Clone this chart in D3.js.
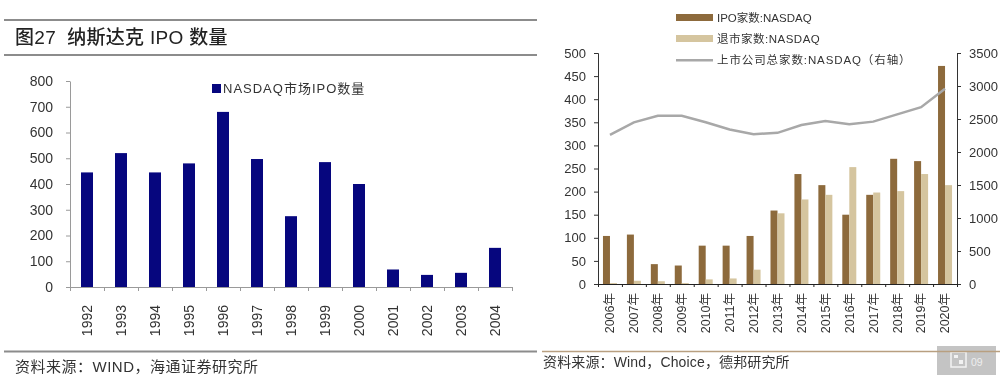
<!DOCTYPE html>
<html>
<head>
<meta charset="utf-8">
<script src="https://cdn.jsdelivr.net/npm/d3@7"></script>
<style>
  html, body { margin: 0; padding: 0; background: #fff; overflow: hidden; }
  svg { display: block; filter: blur(0.5px); }
  text { font-family: "Liberation Sans", "Noto Sans CJK SC", sans-serif; }
</style>
</head>
<body>
<div id="container"></div>
<script>
const years1 = ["1992","1993","1994","1995","1996","1997","1998","1999","2000","2001","2002","2003","2004"];
const ipoCount = [445,520,445,480,680,497,275,485,400,68,47,55,152];
const leftTicks = [0,100,200,300,400,500,600,700,800];

const years2 = ["2006年","2007年","2008年","2009年","2010年","2011年","2012年","2013年","2014年","2015年","2016年","2017年","2018年","2019年","2020年"];
const ipoHomes = [104,107,43,40,83,83,104,159,238,214,150,193,271,266,472];
const delisted = [2,7,6,2,10,12,31,153,183,193,253,198,201,238,214];
const listedTotal = [2260,2450,2550,2550,2450,2340,2270,2290,2410,2470,2420,2460,2570,2680,2960];
const rightLeftTicks = [0,50,100,150,200,250,300,350,400,450,500];
const rightRightTicks = [0,500,1000,1500,2000,2500,3000,3500];

const svg = d3.select("#container").append("svg").attr("width", 1000).attr("height", 377);

const rule = (x1, x2, y, color, w) =>
  svg.append("line").attr("x1", x1).attr("x2", x2).attr("y1", y).attr("y2", y)
    .attr("stroke", color).attr("stroke-width", w);

rule(4, 537, 20, "#8c8c8c", 2);
rule(4, 537, 55, "#8c8c8c", 2);
rule(4, 537, 351.5, "#8c8c8c", 2);

svg.append("text").attr("x", 15).attr("y", 44).attr("font-size", 19)
  .attr("fill", "#222").attr("font-weight", 500).attr("letter-spacing", 0.3)
  .attr("xml:space", "preserve").text("图27  纳斯达克 IPO 数量");
svg.append("text").attr("x", 15).attr("y", 372).attr("font-size", 15)
  .attr("fill", "#333").attr("letter-spacing", 0.5).text("资料来源：WIND，海通证券研究所");
svg.append("text").attr("x", 543).attr("y", 367).attr("font-size", 14)
  .attr("fill", "#333").attr("letter-spacing", 0.15).text("资料来源：Wind，Choice，德邦研究所");

// left chart
const g1 = svg.append("g");
const x1 = d3.scaleBand().domain(years1).range([70, 512]);
const y1 = d3.scaleLinear().domain([0, 800]).range([287, 81]);

g1.selectAll("rect").data(years1).join("rect")
  .attr("x", (d) => x1(d) + x1.step() / 2 - 6)
  .attr("width", 12)
  .attr("y", (d, i) => y1(ipoCount[i]))
  .attr("height", (d, i) => y1(0) - y1(ipoCount[i]))
  .attr("fill", "#06067e");

const yAxis1 = g1.append("g").attr("transform", "translate(70,0)")
  .call(d3.axisLeft(y1).tickValues(leftTicks).tickSize(4).tickSizeOuter(0));
yAxis1.selectAll("text").attr("font-size", 14).attr("fill", "#333").attr("dx", -10);
yAxis1.selectAll("line, path").attr("stroke", "#9a9a9a");

const edges1 = d3.scaleLinear().domain([0, years1.length]).range([70, 512]);
const xTicks1 = g1.append("g").attr("transform", "translate(0,287)")
  .call(d3.axisBottom(edges1).tickValues(d3.range(years1.length + 1)).tickFormat("").tickSize(4));
xTicks1.selectAll("line, path").attr("stroke", "#9a9a9a");

const xLabels1 = g1.append("g").attr("transform", "translate(0,287)")
  .call(d3.axisBottom(x1).tickSize(0));
xLabels1.select("path").remove();
xLabels1.selectAll("text").attr("font-size", 14).attr("fill", "#333")
  .attr("transform", "rotate(-90)").attr("text-anchor", "end")
  .attr("x", -18).attr("y", 0).attr("dy", "0.35em");

g1.append("rect").attr("x", 212).attr("y", 84).attr("width", 9).attr("height", 9).attr("fill", "#06067e");
g1.append("text").attr("x", 223).attr("y", 93).attr("font-size", 13).attr("fill", "#333")
  .attr("letter-spacing", 1).text("NASDAQ市场IPO数量");

// right chart
const g2 = svg.append("g");
const x2 = d3.scaleBand().domain(years2).range([598, 957]);
const yL = d3.scaleLinear().domain([0, 500]).range([284, 53]);
const yR = d3.scaleLinear().domain([0, 3500]).range([284, 53]);
const barW = 7;

g2.append("g").selectAll("rect").data(years2).join("rect")
  .attr("x", (d) => x2(d) + x2.step() / 2 - barW)
  .attr("width", barW)
  .attr("y", (d, i) => yL(ipoHomes[i]))
  .attr("height", (d, i) => yL(0) - yL(ipoHomes[i]))
  .attr("fill", "#8d6a3c");

g2.append("g").selectAll("rect").data(years2).join("rect")
  .attr("x", (d) => x2(d) + x2.step() / 2)
  .attr("width", barW)
  .attr("y", (d, i) => yL(delisted[i]))
  .attr("height", (d, i) => yL(0) - yL(delisted[i]))
  .attr("fill", "#d5c59f");

const totalLine = d3.line()
  .x((d, i) => x2(years2[i]) + x2.step() / 2)
  .y((d) => yR(d));
g2.append("path").datum(listedTotal).attr("d", totalLine)
  .attr("fill", "none").attr("stroke", "#a8a8a8").attr("stroke-width", 2.5);

const axisL = g2.append("g").attr("transform", "translate(598,0)")
  .call(d3.axisLeft(yL).tickValues(rightLeftTicks).tickSize(4).tickSizeOuter(4));
const axisR = g2.append("g").attr("transform", "translate(957,0)")
  .call(d3.axisRight(yR).tickValues(rightRightTicks).tickFormat(d3.format("d")).tickSize(4).tickSizeOuter(4));
[axisL, axisR].forEach((a) => {
  a.selectAll("text").attr("font-size", 13).attr("fill", "#333");
  a.selectAll("line, path").attr("stroke", "#333");
});
axisL.selectAll("text").attr("dx", -5);
axisR.selectAll("text").attr("dx", 5);

const edges2 = d3.scaleLinear().domain([0, years2.length]).range([598, 957]);
const xTicks2 = g2.append("g").attr("transform", "translate(0,284)")
  .call(d3.axisBottom(edges2).tickValues(d3.range(years2.length + 1)).tickFormat("").tickSize(3));
xTicks2.selectAll("line, path").attr("stroke", "#222");

const xLabels2 = g2.append("g").attr("transform", "translate(0,284)")
  .call(d3.axisBottom(x2).tickSize(0));
xLabels2.select("path").remove();
xLabels2.selectAll("text").attr("font-size", 12.5).attr("fill", "#333")
  .attr("transform", "rotate(-90)").attr("text-anchor", "end")
  .attr("x", -9).attr("y", 0).attr("dy", "0.35em");

// right legend
const legendItems = [
  { label: "IPO家数:NASDAQ", color: "#8d6a3c", y: 18, kind: "bar", spacing: 0 },
  { label: "退市家数:NASDAQ", color: "#d5c59f", y: 39, kind: "bar", spacing: 0.5 },
  { label: "上市公司总家数:NASDAQ（右轴）", color: "#a8a8a8", y: 60, kind: "line", spacing: 0.9 },
];
const legend = g2.append("g").selectAll("g").data(legendItems).join("g")
  .attr("transform", (d) => `translate(676,${d.y})`);
legend.append("rect").attr("x", 0).attr("width", 37)
  .attr("y", (d) => (d.kind === "bar" ? -4 : -1))
  .attr("height", (d) => (d.kind === "bar" ? 7 : 2.5))
  .attr("fill", (d) => d.color);
legend.append("text").attr("x", 41).attr("y", 4)
  .attr("font-size", 11.5).attr("fill", "#333").attr("letter-spacing", (d) => d.spacing).text((d) => d.label);

// page badge, the rule runs over it
svg.append("rect").attr("x", 937).attr("y", 346).attr("width", 59).attr("height", 29).attr("fill", "#c4c4c4");
svg.append("rect").attr("x", 951).attr("y", 352).attr("width", 15).attr("height", 15)
  .attr("fill", "none").attr("stroke", "#f2f2f2").attr("stroke-width", 1.5);
svg.append("rect").attr("x", 954).attr("y", 355).attr("width", 4).attr("height", 3).attr("fill", "#f2f2f2");
svg.append("rect").attr("x", 959).attr("y", 360).attr("width", 4).attr("height", 4).attr("fill", "#f2f2f2");
svg.append("text").attr("x", 971).attr("y", 366).attr("font-size", 10.5).attr("fill", "#eee").text("09");
rule(542, 1000, 351.5, "#b89f80", 1.5);
</script>
</body>
</html>
